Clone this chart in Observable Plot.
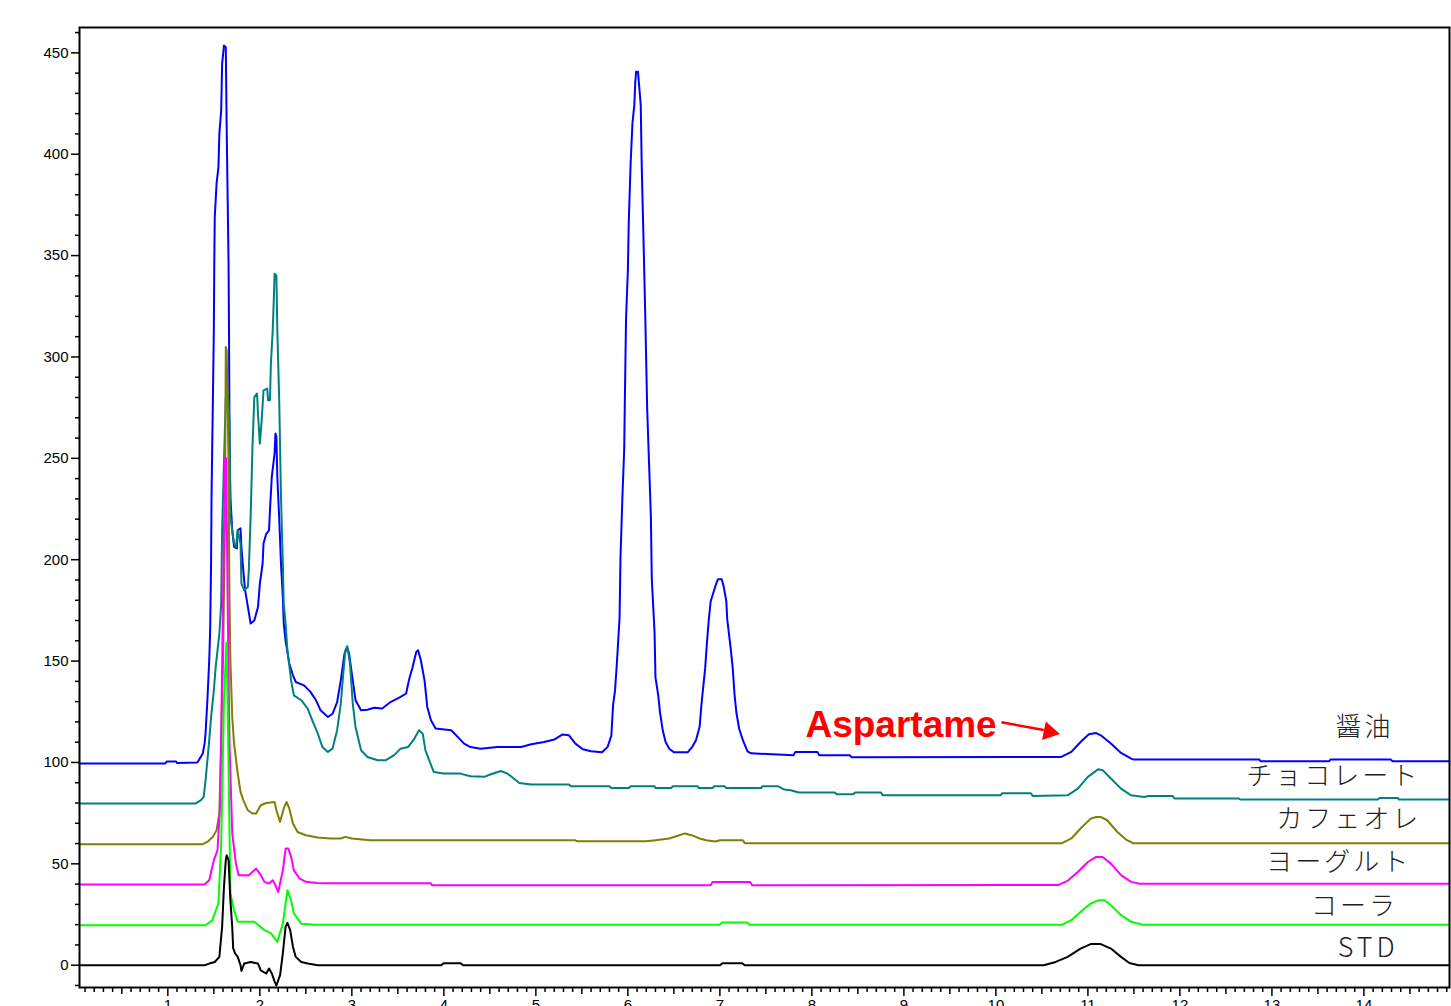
<!DOCTYPE html>
<html><head><meta charset="utf-8">
<script src="https://cdn.jsdelivr.net/npm/d3@7"></script>
<script src="https://cdn.jsdelivr.net/npm/@observablehq/plot@0.6"></script>
<style>html,body{margin:0;padding:0;background:#fff;overflow:hidden}</style>
</head><body><div id="chart"></div>
<script>
// ---- data: retention time (min) vs signal, each trace offset by its baseline ----
const seriesNames = ["醤油", "チョコレート", "カフェオレ", "ヨーグルト", "コーラ", "STD"];
const seriesColors = ["#0000ff", "#008080", "#808000", "#ff00ff", "#00ff00", "#000000"];
const baselines = [100, 80, 60, 40, 20, 0];

const soySauce = [[0.04,99.5],[0.97,99.5],[0.99,100.5],[1.09,100.5],[1.10,99.7],[1.32,100],[1.34,101.4],[1.38,104.4],[1.40,109.5],[1.41,114.4],[1.43,130.7],[1.45,150.4],[1.46,165],[1.47,198],[1.475,231],[1.49,280],[1.50,313],[1.505,346],[1.51,369],[1.53,385.6],[1.55,393.6],[1.56,410],[1.58,421.6],[1.59,444.6],[1.61,453.6],[1.63,452.8],[1.64,411.7],[1.65,378.8],[1.66,346],[1.665,313],[1.67,264],[1.68,231],[1.70,214.5],[1.72,206.3],[1.75,205.6],[1.76,214.5],[1.79,215.5],[1.80,206],[1.82,194.8],[1.84,185],[1.87,176.7],[1.90,168.5],[1.94,170],[1.98,176.7],[2.00,188.2],[2.03,198],[2.04,208],[2.07,212.8],[2.10,214.5],[2.11,224.4],[2.13,240.8],[2.16,252.3],[2.17,262.2],[2.18,260.5],[2.19,240.8],[2.21,221],[2.23,198],[2.25,181.6],[2.26,168.5],[2.28,160],[2.32,148.8],[2.36,143],[2.39,139.7],[2.48,138],[2.55,134.8],[2.61,130.7],[2.66,125.7],[2.74,122.4],[2.79,124],[2.84,129.8],[2.88,140.5],[2.92,153.7],[2.95,156.7],[2.97,153.7],[3.01,140.5],[3.04,130.7],[3.10,125.7],[3.17,126],[3.24,127],[3.33,126.6],[3.42,129.8],[3.53,132.3],[3.59,134],[3.62,140.5],[3.66,147],[3.70,154.5],[3.72,155.3],[3.75,150.4],[3.79,140.5],[3.82,127.4],[3.86,120.8],[3.91,116.7],[4.08,115.9],[4.15,112.6],[4.22,109.3],[4.29,107.6],[4.40,106.8],[4.58,107.6],[4.84,107.6],[4.95,109],[5.09,110.1],[5.20,111.3],[5.29,113.8],[5.36,113.4],[5.43,109.3],[5.51,106.5],[5.60,105.5],[5.72,105.0],[5.78,107.7],[5.82,113.2],[5.84,128.7],[5.86,135.3],[5.88,148.5],[5.91,171.6],[5.92,201.4],[5.94,230.1],[5.96,254.4],[5.97,287.5],[5.98,318.5],[6.00,342.7],[6.01,366.9],[6.03,395.5],[6.05,415.4],[6.07,424.2],[6.08,435.2],[6.09,440.7],[6.11,440.7],[6.12,435.2],[6.14,424.2],[6.15,395.5],[6.17,358.0],[6.19,318.5],[6.21,274.3],[6.23,247.9],[6.25,221.4],[6.26,190.6],[6.29,164.2],[6.30,142.0],[6.33,133.1],[6.35,124.5],[6.38,115.6],[6.41,110.1],[6.45,106.8],[6.50,105.0],[6.65,105.0],[6.70,107.7],[6.74,111.0],[6.78,117.6],[6.80,128.7],[6.82,137.6],[6.84,146.4],[6.86,159.5],[6.88,170.6],[6.90,179.5],[6.93,183.8],[6.96,188.2],[6.98,190.4],[7.02,190.4],[7.04,187.1],[7.07,179.5],[7.08,170.6],[7.12,155.3],[7.14,146.4],[7.16,133.1],[7.18,124.5],[7.21,116.5],[7.25,111.0],[7.30,105.5],[7.34,104.5],[7.80,103.6],[7.82,105.2],[8.06,105.2],[8.08,103.6],[8.41,103.6],[8.43,102.6],[10.71,102.7],[10.82,105.2],[10.92,110.1],[11.01,113.9],[11.09,114.5],[11.14,113.4],[11.25,109.3],[11.36,104.7],[11.47,101.9],[11.50,101.4],[12.86,101.4],[12.88,100.6],[13.62,100.6],[13.64,101.5],[14.29,101.5],[14.31,100.6],[14.93,100.6]];

const chocolate = [[0.04,79.7],[1.30,79.7],[1.36,81.4],[1.39,83],[1.41,91.2],[1.43,101],[1.45,111],[1.47,122.4],[1.50,135.6],[1.52,147],[1.56,163.5],[1.58,178.5],[1.59,214.5],[1.61,247.5],[1.63,280],[1.65,283.5],[1.67,268.7],[1.68,221],[1.72,208],[1.74,206.3],[1.76,214.5],[1.79,208],[1.80,188.2],[1.83,185],[1.87,186.6],[1.88,194.8],[1.90,221],[1.92,255.6],[1.94,280.2],[1.97,282],[1.98,272],[2.00,257.2],[2.02,268.7],[2.04,283.5],[2.08,284.4],[2.09,278.6],[2.11,278.6],[2.12,296.7],[2.14,313],[2.15,326],[2.16,341],[2.18,340.2],[2.19,313],[2.21,280],[2.23,231],[2.25,198],[2.26,178.4],[2.28,168.5],[2.30,155.3],[2.34,140.5],[2.37,133.1],[2.45,130.7],[2.52,126.6],[2.57,120.8],[2.63,114.2],[2.68,107.6],[2.74,105.2],[2.79,106.8],[2.84,115.9],[2.88,129],[2.91,145.5],[2.93,155.3],[2.95,157.3],[2.98,148.8],[3.01,129],[3.04,117.5],[3.10,106],[3.17,102.7],[3.28,101.1],[3.37,101.1],[3.46,103.6],[3.53,106.8],[3.61,107.6],[3.68,111.8],[3.73,115.9],[3.77,114.2],[3.80,106],[3.84,101.1],[3.89,95.3],[4.00,94.5],[4.18,94.5],[4.29,93.2],[4.44,92.9],[4.51,94.2],[4.62,95.8],[4.69,94.5],[4.76,92.1],[4.82,89.9],[4.95,89.1],[5.36,89.1],[5.38,88.3],[5.80,88.3],[5.82,87.4],[6.01,87.4],[6.03,88.3],[6.29,88.3],[6.30,87.4],[6.47,87.4],[6.49,88.3],[6.76,88.3],[6.77,87.4],[6.92,87.4],[6.94,88.3],[7.05,88.3],[7.07,87.4],[7.45,87.4],[7.46,88.3],[7.63,88.3],[7.70,86.6],[7.77,86.3],[7.86,85.2],[8.25,85.2],[8.27,84.3],[8.45,84.3],[8.47,85.2],[8.75,85.2],[8.77,83.8],[10.05,83.8],[10.07,84.8],[10.38,84.8],[10.40,83.5],[10.78,83.8],[10.89,87.1],[11.0,92.9],[11.11,96.6],[11.16,96.2],[11.25,92.1],[11.36,87.1],[11.47,83.8],[11.61,83],[11.66,83.5],[11.92,83.5],[11.94,82.2],[12.64,82.2],[12.66,81.7],[14.15,81.7],[14.17,82.5],[14.37,82.5],[14.38,81.7],[14.93,81.7]];

const cafeAuLait = [[0.04,59.7],[1.38,59.7],[1.43,60.8],[1.49,63.3],[1.53,66.6],[1.56,74.8],[1.60,150],[1.62,214.5],[1.63,304.9],[1.64,303.3],[1.66,247.5],[1.67,181.6],[1.68,150.4],[1.70,122.4],[1.72,109.3],[1.76,94.5],[1.79,85.5],[1.82,81.4],[1.87,76.4],[1.92,74.8],[1.96,74.8],[2.01,78.9],[2.07,80],[2.16,80.5],[2.18,76.4],[2.22,70.7],[2.26,77.3],[2.29,80.5],[2.32,77.3],[2.36,69.9],[2.41,65.7],[2.50,64.1],[2.63,63],[2.77,62.5],[2.88,62.5],[2.93,63.3],[3.0,62.5],[3.2,61.6],[5.43,61.6],[5.45,61.1],[6.2,61.1],[6.3,61.6],[6.45,62.5],[6.55,64],[6.62,65],[6.70,64],[6.78,62.5],[6.85,61.6],[6.95,61],[7.0,61.6],[7.25,61.6],[7.27,60.2],[10.72,60.2],[10.82,62.5],[10.92,67.4],[11.03,72.3],[11.09,73.1],[11.14,73.1],[11.21,71.5],[11.32,65.7],[11.41,62.1],[11.49,60.2],[14.93,60.2]];

const yogurt = [[0.04,39.8],[1.40,39.8],[1.45,41.9],[1.47,46],[1.50,51.8],[1.54,56.7],[1.57,80],[1.60,180],[1.62,250],[1.635,250],[1.65,180],[1.67,110],[1.70,65],[1.74,50.1],[1.77,44.4],[1.88,44.4],[1.96,47.7],[2.01,44.4],[2.05,41.1],[2.10,40.3],[2.14,41.9],[2.17,39.4],[2.20,36.1],[2.25,46.8],[2.28,57.5],[2.31,57.5],[2.34,53.4],[2.37,46.8],[2.43,42.8],[2.50,41.1],[2.62,40.6],[2.75,40.4],[3.86,40.4],[3.87,39.4],[6.90,39.4],[6.92,41],[7.33,41],[7.35,39.4],[10.68,39.6],[10.78,41.6],[10.89,46],[11.0,50.9],[11.09,53.4],[11.16,53.4],[11.25,50.1],[11.36,44.4],[11.47,41.1],[11.56,40.2],[14.93,40.2]];

const cola = [[0.04,19.7],[1.41,19.7],[1.48,22],[1.55,30.5],[1.58,60],[1.61,130],[1.636,159],[1.65,130],[1.68,35.5],[1.72,27],[1.76,21.4],[1.83,21.4],[1.94,21.4],[2.05,17.3],[2.12,15.8],[2.19,11.5],[2.25,20.5],[2.30,37],[2.34,32],[2.37,25.5],[2.45,20.5],[2.6,20],[7.0,20],[7.02,21],[7.3,21],[7.32,20],[10.72,20],[10.82,22.2],[10.92,26.3],[11.03,30.4],[11.11,32],[11.18,32],[11.25,29.6],[11.36,24.7],[11.47,21.4],[11.59,20],[14.93,20]];

const standard = [[0.04,0],[1.40,0],[1.45,0.8],[1.51,1.6],[1.56,4.1],[1.59,18.9],[1.61,38.6],[1.63,51.8],[1.64,54.2],[1.66,51.8],[1.68,32],[1.70,18.9],[1.71,8.4],[1.73,5.9],[1.76,4.1],[1.79,0],[1.80,-2.8],[1.83,0.8],[1.90,1.6],[1.98,0.8],[2.01,-2.5],[2.07,-4.1],[2.10,-1.6],[2.13,-4.1],[2.16,-8],[2.18,-10],[2.22,-4.9],[2.25,5.8],[2.28,18.9],[2.30,20.9],[2.33,17.3],[2.36,9],[2.39,4.1],[2.45,1.6],[2.52,0.8],[2.63,0],[3.97,0],[4.0,1],[4.18,1],[4.21,0],[7.0,0],[7.03,1],[7.24,1],[7.27,0],[10.52,0],[10.65,1.6],[10.78,4.1],[10.92,8.2],[11.03,10.4],[11.14,10.4],[11.25,8.2],[11.36,4.1],[11.45,1.1],[11.55,0],[14.93,0]];

const yTickValues = [0, 50, 100, 150, 200, 250, 300, 350, 400, 450];
const xTickValues = [1, 2, 3, 4, 5, 6, 7, 8, 9, 10, 11, 12, 13, 14];
const annotationText = "Aspartame";

// ---- layout (not data) ----
const traces = [soySauce, chocolate, cafeAuLait, yogurt, cola, standard];
const rows = [];
traces.forEach((s, i) => s.forEach(([t, v]) => rows.push({name: seriesNames[i], t, v})));

const labelLayout = [
  {name: "醤油", x: 13.99, dy: 17.4},
  {name: "チョコレート", x: 13.65, dy: 13.2},
  {name: "カフェオレ", x: 13.82, dy: 12},
  {name: "ヨーグルト", x: 13.71, dy: 10.8},
  {name: "コーラ", x: 13.88, dy: 9.1},
  {name: "STD", x: 14.03, dy: 8.4}
].map(d => ({...d, y: baselines[seriesNames.indexOf(d.name)] + d.dy}));

const note = {x: 7.93, y: 118.5, ax1: 10.06, ay1: 119.8, ax2: 10.52, ay2: 116.0, tx: 10.58, ty: 115.1};

const minorY = d3.range(-10, 461, 10).filter(v => v % 50 !== 0);
const minorX = d3.range(1, 150).map(i => i / 10).filter(v => Math.abs(v * 2 - Math.round(v * 2)) > 1e-6);
const halfX = d3.range(0, 15).map(i => i + 0.5);

const chart = Plot.plot({
  width: 1451,
  height: 1030,
  marginLeft: 79,
  marginRight: 2,
  marginTop: 27,
  marginBottom: 43,
  style: {fontFamily: "'Liberation Sans', Arial, sans-serif", fontSize: "15px", color: "#000", background: "#fff"},
  x: {domain: [0.04, 14.93]},
  y: {domain: [-11, 462.5]},
  color: {domain: seriesNames, range: seriesColors},
  marks: [
    Plot.axisY(minorY, {tickSize: 4, text: null, strokeWidth: 1.5}),
    Plot.axisY(yTickValues, {tickSize: 8, tickPadding: 3, label: null, strokeWidth: 1.5, fontSize: 15}),
    Plot.axisX(minorX, {tickSize: 5, text: null, strokeWidth: 1.5}),
    Plot.axisX(halfX, {tickSize: 7, text: null, strokeWidth: 1.5}),
    Plot.axisX(xTickValues, {tickSize: 9, tickPadding: 3, label: null, strokeWidth: 1.5, fontSize: 15}),
    Plot.line(rows, {x: "t", y: "v", z: "name", stroke: "name", strokeWidth: 2, curve: "linear"}),
    Plot.frame({stroke: "#000", strokeWidth: 2}),
    Plot.text(labelLayout, {x: "x", y: "y", text: "name", fontSize: 26, fill: "#222", fontFamily: "'Noto Sans CJK JP', sans-serif", fontWeight: 300, textAnchor: "middle", lineAnchor: "middle", dx: 1.5}),
    Plot.text([note], {x: "x", y: "y", text: () => annotationText, fill: "#ff0000", fontSize: 37, fontWeight: "bold", fontFamily: "'Liberation Sans', Arial, sans-serif", textAnchor: "start", lineAnchor: "middle"}),
    Plot.link([note], {x1: "ax1", y1: "ay1", x2: "ax2", y2: "ay2", stroke: "#ff0000", strokeWidth: 2.5}),
    Plot.dot([note], {x: "tx", y: "ty", symbol: "triangle", r: 7, fill: "#ff0000", stroke: "none", rotate: 101.5})
  ]
});
d3.select(chart).selectAll("text")
  .filter(function () { return seriesNames.includes(this.textContent); })
  .style("letter-spacing", function () { return this.textContent === "STD" ? "4px" : "3px"; })
  .style("font-size", function () { return this.textContent === "STD" ? "27px" : null; });
document.getElementById("chart").appendChild(chart);
</script>
</body></html>
